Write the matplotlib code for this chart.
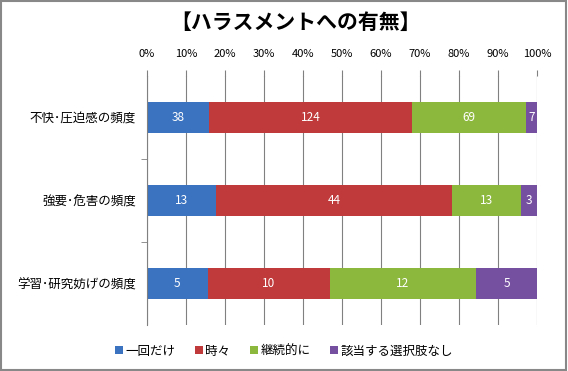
import matplotlib
matplotlib.use("Agg")
import matplotlib.pyplot as plt
import numpy as np
from matplotlib.patches import Rectangle

plt.rcParams['font.family'] = ['Noto Sans CJK JP', 'DejaVu Sans']

categories = ["不快･圧迫感の頻度", "強要･危害の頻度", "学習･研究妨げの頻度"]
series_names = ["一回だけ", "時々", "継続的に", "該当する選択肢なし"]
once = [38, 13, 5]
sometimes = [124, 44, 10]
continuous = [69, 13, 12]
none_applicable = [7, 3, 5]
colors = ["#3B73C0", "#C0393B", "#8DB83E", "#7650A0"]
tick_labels = ["0%", "10%", "20%", "30%", "40%", "50%", "60%", "70%", "80%", "90%", "100%"]

data = np.array([once, sometimes, continuous, none_applicable], dtype=float)
totals = data.sum(axis=0)
frac = data / totals

fig = plt.figure(figsize=(5.68, 3.71), dpi=100)
ax = fig.add_axes([147/568, 1 - 325/371, (537-147)/568, (325-76)/371])

y = np.arange(len(categories))
left = np.zeros(len(categories))
for i, name in enumerate(series_names):
    ax.barh(y, frac[i], left=left, height=0.38, color=colors[i], label=name, zorder=3)
    for j in range(len(categories)):
        ax.text(left[j] + frac[i][j] / 2, y[j], f"{int(data[i][j])}", ha='center', va='center',
                color='white', fontsize=8.5, zorder=4)
    left += frac[i]

ax.set_xlim(0, 1)
ax.set_ylim(len(categories) - 0.5, -0.5)
ax.xaxis.tick_top()
ax.set_xticks(np.linspace(0, 1, 11))
ax.set_xticklabels(tick_labels, fontsize=8)
ax.tick_params(axis='x', length=4, color='#808080', pad=8)
ax.set_yticks(y)
ax.set_yticklabels(categories, fontsize=9)
ax.tick_params(axis='y', length=0, pad=8)
ax.set_yticks([0.5, 1.5], minor=True)
ax.tick_params(axis='y', which='minor', length=4, color='#808080')
ax.grid(axis='x', color='#808080', linewidth=0.8, zorder=0)
for s in ['right', 'bottom']:
    ax.spines[s].set_visible(False)
ax.spines['top'].set_visible(False)
ax.spines['left'].set_color('#808080')
ax.spines['left'].set_zorder(5)

fig.text(296/568, 1 - 22/371, "【ハラスメントへの有無】", ha='center', va='center',
         fontsize=15, fontweight='bold')

fig.legend(loc='center', bbox_to_anchor=(284/568, 1 - 351/371), ncol=4, frameon=False,
           fontsize=9, handlelength=0.6, handleheight=0.6, handletextpad=0.2, columnspacing=1.6)

fig.patches.append(Rectangle((0.002, 0.003), 0.995, 0.994, transform=fig.transFigure,
                             fill=False, edgecolor='#888888', linewidth=1.5))

fig.savefig("out.png", dpi=100)
